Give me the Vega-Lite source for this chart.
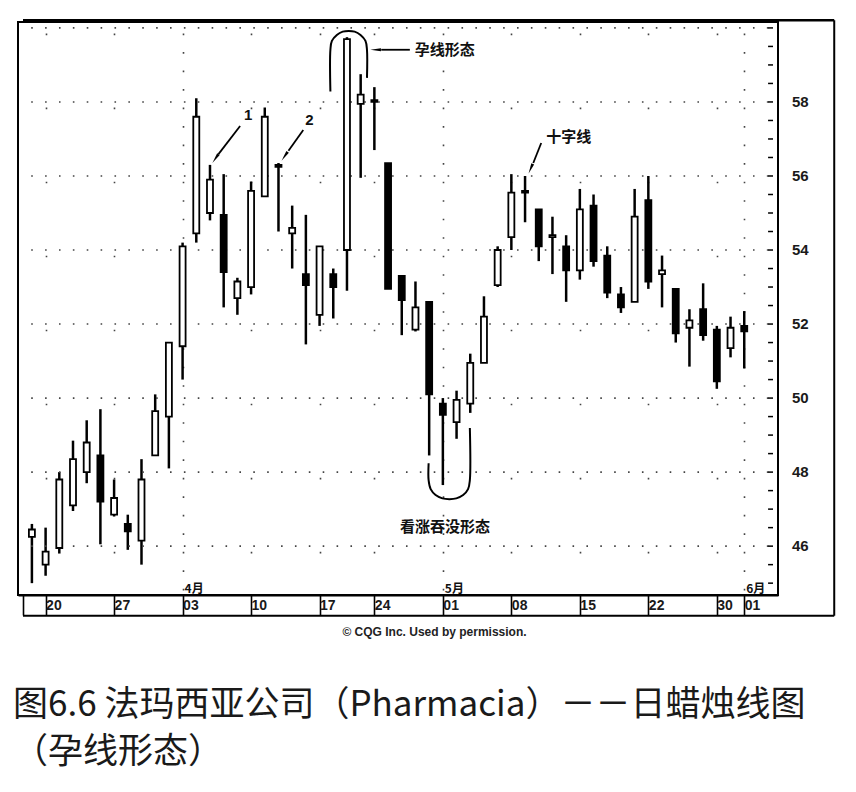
{
  "$schema": "https://vega.github.io/schema/vega-lite/v6.json",
  "width": 760,
  "height": 573,
  "autosize": {"type": "none"},
  "padding": {"left": 18, "top": 22, "right": 78, "bottom": 197},
  "background": "white",
  "config": {
    "view": {"stroke": "black", "strokeWidth": 2}
  },
  "title": {
    "text": ["图6.6 法玛西亚公司（Pharmacia）－－日蜡烛线图", "（孕线形态）"],
    "orient": "bottom",
    "anchor": "start",
    "frame": "group",
    "font": "Noto Sans CJK SC",
    "fontSize": 35,
    "fontWeight": "normal",
    "color": "#1a1a1a",
    "lineHeight": 47,
    "offset": 50,
    "dx": -5
  },
  "datasets": {
    "c": [
      {"i": 0, "d": "2000-03-17", "o": 46.25, "h": 46.6, "l": 45.0, "c": 46.45},
      {"i": 1, "d": "2000-03-20", "o": 45.5, "h": 46.5, "l": 45.2, "c": 45.85},
      {"i": 2, "d": "2000-03-21", "o": 45.95, "h": 48.0, "l": 45.8, "c": 47.8},
      {"i": 3, "d": "2000-03-22", "o": 47.1, "h": 48.85, "l": 46.95, "c": 48.35},
      {"i": 4, "d": "2000-03-23", "o": 48.0, "h": 49.4, "l": 47.7, "c": 48.8},
      {"i": 5, "d": "2000-03-24", "o": 48.45, "h": 49.7, "l": 46.05, "c": 47.2},
      {"i": 6, "d": "2000-03-27", "o": 46.85, "h": 47.8, "l": 46.8, "c": 47.3},
      {"i": 7, "d": "2000-03-28", "o": 46.6, "h": 46.85, "l": 45.9, "c": 46.4},
      {"i": 8, "d": "2000-03-29", "o": 46.15, "h": 48.35, "l": 45.5, "c": 47.8},
      {"i": 9, "d": "2000-03-30", "o": 48.45, "h": 50.1, "l": 48.45, "c": 49.65},
      {"i": 10, "d": "2000-03-31", "o": 49.5, "h": 51.5, "l": 48.1, "c": 51.5},
      {"i": 11, "d": "2000-04-03", "o": 51.4, "h": 54.2, "l": 50.5, "c": 54.1},
      {"i": 12, "d": "2000-04-04", "o": 54.45, "h": 58.1, "l": 54.2, "c": 57.6},
      {"i": 13, "d": "2000-04-05", "o": 55.0, "h": 56.3, "l": 54.8, "c": 55.9},
      {"i": 14, "d": "2000-04-06", "o": 54.95, "h": 56.05, "l": 52.45, "c": 53.4},
      {"i": 15, "d": "2000-04-07", "o": 52.7, "h": 53.25, "l": 52.25, "c": 53.15},
      {"i": 16, "d": "2000-04-10", "o": 53.0, "h": 55.85, "l": 52.8, "c": 55.6},
      {"i": 17, "d": "2000-04-11", "o": 55.45, "h": 57.85, "l": 55.45, "c": 57.6},
      {"i": 18, "d": "2000-04-12", "o": 56.3, "h": 56.35, "l": 54.5, "c": 56.25},
      {"i": 19, "d": "2000-04-13", "o": 54.45, "h": 55.2, "l": 53.5, "c": 54.6},
      {"i": 20, "d": "2000-04-14", "o": 53.35, "h": 54.95, "l": 51.45, "c": 53.05},
      {"i": 21, "d": "2000-04-17", "o": 52.25, "h": 54.1, "l": 51.95, "c": 54.1},
      {"i": 22, "d": "2000-04-18", "o": 53.35, "h": 53.5, "l": 52.15, "c": 53.0},
      {"i": 23, "d": "2000-04-19", "o": 54.0, "h": 59.75, "l": 52.9, "c": 59.7},
      {"i": 24, "d": "2000-04-20", "o": 57.95, "h": 58.75, "l": 55.95, "c": 58.2},
      {"i": 25, "d": "2000-04-24", "o": 58.05, "h": 58.4, "l": 56.7, "c": 58.0},
      {"i": 26, "d": "2000-04-25", "o": 56.35, "h": 56.35, "l": 52.95, "c": 52.95},
      {"i": 27, "d": "2000-04-26", "o": 53.3, "h": 53.3, "l": 51.7, "c": 52.65},
      {"i": 28, "d": "2000-04-27", "o": 51.85, "h": 53.15, "l": 51.8, "c": 52.45},
      {"i": 29, "d": "2000-04-28", "o": 52.6, "h": 52.6, "l": 48.45, "c": 50.1},
      {"i": 30, "d": "2000-05-01", "o": 49.85, "h": 50.0, "l": 47.65, "c": 49.55},
      {"i": 31, "d": "2000-05-02", "o": 49.35, "h": 50.2, "l": 48.9, "c": 49.95},
      {"i": 32, "d": "2000-05-03", "o": 49.85, "h": 51.2, "l": 49.6, "c": 50.95},
      {"i": 33, "d": "2000-05-04", "o": 50.95, "h": 52.75, "l": 50.95, "c": 52.2},
      {"i": 34, "d": "2000-05-05", "o": 53.05, "h": 54.1, "l": 53.0, "c": 54.0},
      {"i": 35, "d": "2000-05-08", "o": 54.35, "h": 56.05, "l": 54.0, "c": 55.55},
      {"i": 36, "d": "2000-05-09", "o": 55.55, "h": 56.0, "l": 54.75, "c": 55.6},
      {"i": 37, "d": "2000-05-10", "o": 55.1, "h": 55.1, "l": 53.7, "c": 54.1},
      {"i": 38, "d": "2000-05-11", "o": 54.35, "h": 54.9, "l": 53.35, "c": 54.4},
      {"i": 39, "d": "2000-05-12", "o": 54.1, "h": 54.4, "l": 52.6, "c": 53.45},
      {"i": 40, "d": "2000-05-15", "o": 53.45, "h": 55.65, "l": 53.2, "c": 55.1},
      {"i": 41, "d": "2000-05-16", "o": 55.2, "h": 55.5, "l": 53.55, "c": 53.7},
      {"i": 42, "d": "2000-05-17", "o": 53.85, "h": 54.1, "l": 52.7, "c": 52.85},
      {"i": 43, "d": "2000-05-18", "o": 52.8, "h": 53.0, "l": 52.3, "c": 52.45},
      {"i": 44, "d": "2000-05-19", "o": 52.6, "h": 55.65, "l": 52.6, "c": 54.9},
      {"i": 45, "d": "2000-05-22", "o": 55.35, "h": 56.0, "l": 52.95, "c": 53.15},
      {"i": 46, "d": "2000-05-23", "o": 53.35, "h": 53.85, "l": 52.45, "c": 53.45},
      {"i": 47, "d": "2000-05-24", "o": 52.95, "h": 52.95, "l": 51.5, "c": 51.75},
      {"i": 48, "d": "2000-05-25", "o": 51.9, "h": 52.4, "l": 50.85, "c": 52.1},
      {"i": 49, "d": "2000-05-26", "o": 52.4, "h": 53.1, "l": 51.55, "c": 51.7},
      {"i": 50, "d": "2000-05-30", "o": 51.85, "h": 51.95, "l": 50.25, "c": 50.45},
      {"i": 51, "d": "2000-05-31", "o": 51.35, "h": 52.2, "l": 51.1, "c": 51.9},
      {"i": 52, "d": "2000-06-01", "o": 51.95, "h": 52.35, "l": 50.8, "c": 51.8}
    ],
    "curves": [
      {"g": "a", "k": 0, "i": 21.79, "p": 58.28},
      {"g": "a", "k": 1, "i": 21.79, "p": 59.41},
      {"g": "a", "k": 2, "i": 21.9, "p": 59.65},
      {"g": "a", "k": 3, "i": 22.26, "p": 59.81},
      {"g": "a", "k": 4, "i": 22.69, "p": 59.9},
      {"g": "a", "k": 5, "i": 23.13, "p": 59.92},
      {"g": "a", "k": 6, "i": 23.56, "p": 59.9},
      {"g": "a", "k": 7, "i": 23.99, "p": 59.81},
      {"g": "a", "k": 8, "i": 24.35, "p": 59.65},
      {"g": "a", "k": 9, "i": 24.46, "p": 59.41},
      {"g": "a", "k": 10, "i": 24.46, "p": 58.65},
      {"g": "b", "k": 0, "i": 28.96, "p": 48.24},
      {"g": "b", "k": 1, "i": 28.96, "p": 47.78},
      {"g": "b", "k": 2, "i": 29.11, "p": 47.54},
      {"g": "b", "k": 3, "i": 29.47, "p": 47.38},
      {"g": "b", "k": 4, "i": 29.97, "p": 47.29},
      {"g": "b", "k": 5, "i": 30.48, "p": 47.27},
      {"g": "b", "k": 6, "i": 30.98, "p": 47.29},
      {"g": "b", "k": 7, "i": 31.48, "p": 47.38},
      {"g": "b", "k": 8, "i": 31.84, "p": 47.54},
      {"g": "b", "k": 9, "i": 31.97, "p": 47.78},
      {"g": "b", "k": 10, "i": 31.97, "p": 49.19}
    ],
    "arrows": [
      {"id": "h", "i": 27.59, "p": 59.41, "i2": 25.5, "p2": 59.41},
      {"id": "1", "i": 15.2, "p": 57.35, "i2": 13.62, "p2": 56.59},
      {"id": "2", "i": 19.81, "p": 57.24, "i2": 18.73, "p2": 56.68},
      {"id": "x", "i": 37.18, "p": 56.89, "i2": 36.6, "p2": 56.35}
    ],
    "heads": [
      {"id": "h", "i": 25.22, "p": 59.41},
      {"id": "1", "i": 13.47, "p": 56.51},
      {"id": "2", "i": 18.52, "p": 56.57},
      {"id": "x", "i": 36.46, "p": 56.24}
    ],
    "notes": [
      {"t": "孕线形态", "i": 27.95, "p": 59.41},
      {"t": "十字线", "i": 37.54, "p": 57.05},
      {"t": "看涨吞没形态", "i": 26.87, "p": 46.51}
    ],
    "nums": [
      {"t": "1", "i": 15.49, "p": 57.64},
      {"t": "2", "i": 19.96, "p": 57.51}
    ],
    "months": [
      {"t": "4月", "i": 11},
      {"t": "5月", "i": 30},
      {"t": "6月", "i": 52}
    ],
    "hgrid": [
      {"p": 46}, {"p": 48}, {"p": 50}, {"p": 52}, {"p": 54}, {"p": 56}, {"p": 58}, {"p": 60}
    ],
    "ylab": [
      {"p": 46}, {"p": 48}, {"p": 50}, {"p": 52}, {"p": 54}, {"p": 56}, {"p": 58}
    ],
    "yticks": [
      {"p": 45}, {"p": 45.5}, {"p": 46}, {"p": 46.5}, {"p": 47}, {"p": 47.5}, {"p": 48}, {"p": 48.5},
      {"p": 49}, {"p": 49.5}, {"p": 50}, {"p": 50.5}, {"p": 51}, {"p": 51.5}, {"p": 52}, {"p": 52.5},
      {"p": 53}, {"p": 53.5}, {"p": 54}, {"p": 54.5}, {"p": 55}, {"p": 55.5}, {"p": 56}, {"p": 56.5},
      {"p": 57}, {"p": 57.5}, {"p": 58}, {"p": 58.5}, {"p": 59}, {"p": 59.5}, {"p": 60}
    ]
  },
  "layer": [
    {
      "data": {"name": "c"},
      "mark": {"type": "rule", "color": "black", "strokeWidth": 2.5},
      "encoding": {
        "x": {
          "field": "i",
          "type": "quantitative",
          "scale": {"domain": [-0.65, 54.1], "nice": false, "zero": false},
          "axis": {
            "orient": "bottom",
            "title": null,
            "values": [-0.65, 1, 6, 11, 16, 21, 25, 30, 35, 40, 45, 50, 52],
            "labelExpr": "datum.value < 0 ? '' : ['20','27','03','10','17','24','01','08','15','22','30','01'][indexof([1,6,11,16,21,25,30,35,40,45,50,52], datum.value)]",
            "labelAlign": "left",
            "labelBaseline": "top",
            "labelDx": 2,
            "labelPadding": -17,
            "labelFont": "Liberation Sans",
            "labelFontSize": 14,
            "labelFontWeight": "bold",
            "labelColor": "#1a1a1a",
            "labelOverlap": false,
            "labelFlush": false,
            "labelBound": false,
            "tickSize": 20,
            "tickWidth": 1.6,
            "tickColor": "black",
            "domain": true,
            "domainColor": "black",
            "domainWidth": 2,
            "grid": true,
            "gridColor": "#444",
            "gridWidth": 1.6,
            "gridDash": {"condition": {"test": "datum.value == 11 || datum.value == 30 || datum.value == 52", "value": [1.6, 16.91]}, "value": [1.6, 72.44]},
            "gridDashOffset": {"condition": {"test": "datum.value == 11 || datum.value == 30 || datum.value == 52", "value": 7.46}, "value": 62.99},
            "gridOpacity": {"condition": {"test": "datum.value < 0", "value": 0}, "value": 1}
          }
        },
        "y": {
          "field": "l",
          "type": "quantitative",
          "scale": {"domain": [44.68, 60.16], "nice": false, "zero": false},
          "axis": {
            "orient": "right",
            "title": null,
            "labels": false,
            "ticks": false,
            "domain": false,
            "grid": false
          }
        },
        "y2": {"field": "h"}
      }
    },
    {
      "data": {"name": "hgrid"},
      "mark": {"type": "rule", "color": "#444", "strokeWidth": 1.6, "strokeDash": [1.6, 12.28], "strokeDashOffset": 5.68},
      "encoding": {
        "x": {"datum": -0.65, "type": "quantitative", "scale": {"domain": [-0.65, 54.1], "nice": false, "zero": false}},
        "x2": {"datum": 54.1},
        "y": {"field": "p", "type": "quantitative", "scale": {"domain": [44.68, 60.16], "nice": false, "zero": false}, "axis": {"orient": "right"}}
      }
    },
    {
      "data": {"name": "yticks"},
      "mark": {"type": "rule", "color": "black", "strokeWidth": 1.5},
      "encoding": {
        "x": {"datum": 53.74, "type": "quantitative", "scale": {"domain": [-0.65, 54.1], "nice": false, "zero": false}},
        "x2": {"datum": 54.1},
        "y": {"field": "p", "type": "quantitative", "scale": {"domain": [44.68, 60.16], "nice": false, "zero": false}, "axis": {"orient": "right"}}
      }
    },
    {
      "data": {"name": "ylab"},
      "mark": {"type": "text", "align": "left", "baseline": "middle", "dx": 19, "font": "Liberation Sans", "fontSize": 15, "fontWeight": "bold", "color": "#1a1a1a"},
      "encoding": {
        "x": {"datum": 54.1, "type": "quantitative", "scale": {"domain": [-0.65, 54.1], "nice": false, "zero": false}},
        "y": {"field": "p", "type": "quantitative", "scale": {"domain": [44.68, 60.16], "nice": false, "zero": false}, "axis": {"orient": "right"}},
        "text": {"field": "p", "type": "quantitative", "format": "d"}
      }
    },
    {
      "data": {"name": "c"},
      "mark": {"type": "bar", "size": 6, "stroke": "black", "strokeWidth": 1.8},
      "encoding": {
        "x": {"field": "i", "type": "quantitative", "scale": {"domain": [-0.65, 54.1], "nice": false, "zero": false}},
        "y": {"field": "o", "type": "quantitative", "scale": {"domain": [44.68, 60.16], "nice": false, "zero": false}, "axis": {"orient": "right"}},
        "y2": {"field": "c"},
        "fill": {"condition": {"test": "datum.c > datum.o", "value": "white"}, "value": "black"}
      }
    },
    {
      "data": {"name": "curves"},
      "mark": {"type": "line", "color": "black", "strokeWidth": 2, "interpolate": "catmull-rom"},
      "encoding": {
        "x": {"field": "i", "type": "quantitative", "scale": {"domain": [-0.65, 54.1], "nice": false, "zero": false}},
        "y": {"field": "p", "type": "quantitative", "scale": {"domain": [44.68, 60.16], "nice": false, "zero": false}, "axis": {"orient": "right"}},
        "detail": {"field": "g"},
        "order": {"field": "k", "type": "quantitative"}
      }
    },
    {
      "data": {"name": "arrows"},
      "mark": {"type": "rule", "color": "black", "strokeWidth": 1.8},
      "encoding": {
        "x": {"field": "i", "type": "quantitative", "scale": {"domain": [-0.65, 54.1], "nice": false, "zero": false}},
        "y": {"field": "p", "type": "quantitative", "scale": {"domain": [44.68, 60.16], "nice": false, "zero": false}, "axis": {"orient": "right"}},
        "x2": {"field": "i2"},
        "y2": {"field": "p2"}
      }
    },
    {
      "data": {"name": "heads"},
      "transform": [{"filter": "datum.id == 'h'"}],
      "mark": {"type": "point", "shape": "wedge", "filled": true, "color": "black", "opacity": 1, "size": 150, "angle": 270},
      "encoding": {
        "x": {"field": "i", "type": "quantitative", "scale": {"domain": [-0.65, 54.1], "nice": false, "zero": false}},
        "y": {"field": "p", "type": "quantitative", "scale": {"domain": [44.68, 60.16], "nice": false, "zero": false}, "axis": {"orient": "right"}}
      }
    },
    {
      "data": {"name": "heads"},
      "transform": [{"filter": "datum.id == '1' || datum.id == '2'"}],
      "mark": {"type": "point", "shape": "wedge", "filled": true, "color": "black", "opacity": 1, "size": 150, "angle": 215},
      "encoding": {
        "x": {"field": "i", "type": "quantitative", "scale": {"domain": [-0.65, 54.1], "nice": false, "zero": false}},
        "y": {"field": "p", "type": "quantitative", "scale": {"domain": [44.68, 60.16], "nice": false, "zero": false}, "axis": {"orient": "right"}}
      }
    },
    {
      "data": {"name": "heads"},
      "transform": [{"filter": "datum.id == 'x'"}],
      "mark": {"type": "point", "shape": "wedge", "filled": true, "color": "black", "opacity": 1, "size": 150, "angle": 203},
      "encoding": {
        "x": {"field": "i", "type": "quantitative", "scale": {"domain": [-0.65, 54.1], "nice": false, "zero": false}},
        "y": {"field": "p", "type": "quantitative", "scale": {"domain": [44.68, 60.16], "nice": false, "zero": false}, "axis": {"orient": "right"}}
      }
    },
    {
      "data": {"name": "notes"},
      "mark": {"type": "text", "align": "left", "baseline": "middle", "font": "Noto Sans CJK SC", "fontSize": 15, "fontWeight": "bold", "color": "#111"},
      "encoding": {
        "x": {"field": "i", "type": "quantitative", "scale": {"domain": [-0.65, 54.1], "nice": false, "zero": false}},
        "y": {"field": "p", "type": "quantitative", "scale": {"domain": [44.68, 60.16], "nice": false, "zero": false}, "axis": {"orient": "right"}},
        "text": {"field": "t"}
      }
    },
    {
      "data": {"name": "nums"},
      "mark": {"type": "text", "align": "left", "baseline": "middle", "font": "Liberation Sans", "fontSize": 15, "fontWeight": "bold", "color": "#111"},
      "encoding": {
        "x": {"field": "i", "type": "quantitative", "scale": {"domain": [-0.65, 54.1], "nice": false, "zero": false}},
        "y": {"field": "p", "type": "quantitative", "scale": {"domain": [44.68, 60.16], "nice": false, "zero": false}, "axis": {"orient": "right"}},
        "text": {"field": "t"}
      }
    },
    {
      "data": {"name": "months"},
      "mark": {"type": "text", "align": "left", "baseline": "middle", "dx": 2, "font": "Noto Sans CJK SC", "fontSize": 12, "fontWeight": "bold", "color": "#111"},
      "encoding": {
        "x": {"field": "i", "type": "quantitative", "scale": {"domain": [-0.65, 54.1], "nice": false, "zero": false}},
        "y": {"datum": 44.84, "type": "quantitative", "scale": {"domain": [44.68, 60.16], "nice": false, "zero": false}, "axis": {"orient": "right"}},
        "text": {"field": "t"}
      }
    },
    {
      "data": {"values": [{"n": 1}]},
      "mark": {"type": "rule", "color": "black", "strokeWidth": 2.5},
      "encoding": {
        "x": {"datum": -0.65, "type": "quantitative", "scale": {"domain": [-0.65, 54.1], "nice": false, "zero": false}},
        "x2": {"datum": 58.57},
        "y": {"datum": 60.21, "type": "quantitative", "scale": {"domain": [44.68, 60.16], "nice": false, "zero": false}, "axis": {"orient": "right"}}
      }
    },
    {
      "data": {"values": [{"n": 1}]},
      "mark": {"type": "rule", "color": "black", "strokeWidth": 2},
      "encoding": {
        "x": {"datum": -0.65, "type": "quantitative", "scale": {"domain": [-0.65, 54.1], "nice": false, "zero": false}},
        "x2": {"datum": 58.57},
        "y": {"datum": 44.12, "type": "quantitative", "scale": {"domain": [44.68, 60.16], "nice": false, "zero": false}, "axis": {"orient": "right"}}
      }
    },
    {
      "data": {"values": [{"n": 1}]},
      "mark": {"type": "rule", "color": "black", "strokeWidth": 2},
      "encoding": {
        "x": {"datum": 58.57, "type": "quantitative", "scale": {"domain": [-0.65, 54.1], "nice": false, "zero": false}},
        "y": {"datum": 60.21, "type": "quantitative", "scale": {"domain": [44.68, 60.16], "nice": false, "zero": false}, "axis": {"orient": "right"}},
        "y2": {"datum": 44.12}
      }
    },
    {
      "data": {"values": [{"n": 1}]},
      "mark": {"type": "text", "align": "center", "baseline": "middle", "font": "Liberation Sans", "fontSize": 12, "fontWeight": "bold", "color": "#222", "text": "© CQG Inc. Used by permission."},
      "encoding": {
        "x": {"datum": 29.39, "type": "quantitative", "scale": {"domain": [-0.65, 54.1], "nice": false, "zero": false}},
        "y": {"datum": 43.68, "type": "quantitative", "scale": {"domain": [44.68, 60.16], "nice": false, "zero": false}, "axis": {"orient": "right"}}
      }
    }
  ]
}
